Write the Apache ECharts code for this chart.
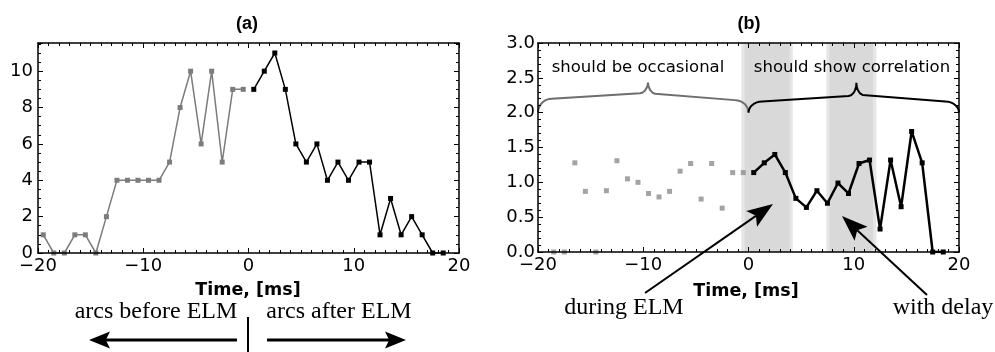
<!DOCTYPE html>
<html><head><meta charset="utf-8">
<script src="https://cdn.jsdelivr.net/npm/echarts@6/dist/echarts.min.js"></script>
<style>html,body{margin:0;padding:0;background:#fff}#c{width:995px;height:352px}</style>
</head><body><div id="c"></div>
<script>
// ---- data ----
const timesBefore = [-19.5,-18.5,-17.5,-16.5,-15.5,-14.5,-13.5,-12.5,-11.5,-10.5,-9.5,-8.5,-7.5,-6.5,-5.5,-4.5,-3.5,-2.5,-1.5,-0.5];
const countsBefore = [1,0,0,1,1,0,2,4,4,4,4,4,5,8,10,6,10,5,9,9];
const timesAfter = [0.5,1.5,2.5,3.5,4.5,5.5,6.5,7.5,8.5,9.5,10.5,11.5,12.5,13.5,14.5,15.5,16.5,17.5,18.5];
const countsAfter = [9,10,11,9,6,5,6,4,5,4,5,5,1,3,1,2,1,0,0];
const ratioBefore = [null,0,0,1.28,0.87,0,0.88,1.31,1.05,1.00,0.84,0.79,0.87,1.16,1.27,0.76,1.27,0.63,1.14,1.14];
const ratioAfter = [1.14,1.28,1.40,1.14,0.77,0.64,0.88,0.70,0.99,0.84,1.27,1.32,0.33,1.32,0.65,1.73,1.28,0,0];
const xTickLabels = ['\u221220','\u221210','0','10','20'];
const yTicksA = [0,2,4,6,8,10];
const yTicksB = ['0.0','0.5','1.0','1.5','2.0','2.5','3.0'];
// shaded windows (ms): [outer start, inner start, inner end, outer end]
const bandDuring = [-0.68,-0.36,3.91,4.2];
const bandDelay = [7.4,7.7,11.83,12.15];

const pairs = (xs, ys) => xs.map((x,i)=>[x, ys[i]]);

function brace(x0, x1, xp, y0, ysL, ymL, ymR, ysR, yt, rx, px){
  const pts=[], N=14;
  for(let i=0;i<=N;i++){const a=i/N*Math.PI/2; pts.push([x0+rx*(1-Math.cos(a)), y0+(ysL-y0)*Math.sin(a)]);}
  for(let i=0;i<=N;i++){const a=i/N*Math.PI/2; pts.push([xp-px+px*Math.sin(a), ymL+(yt-ymL)*(1-Math.cos(a))]);}
  for(let i=N;i>=0;i--){const a=i/N*Math.PI/2; pts.push([xp+px-px*Math.sin(a), ymR+(yt-ymR)*(1-Math.cos(a))]);}
  for(let i=N;i>=0;i--){const a=i/N*Math.PI/2; pts.push([x1-rx*(1-Math.cos(a)), y0+(ysR-y0)*Math.sin(a)]);}
  return pts;
}

const xFmt = v => { const i=[-20,-10,0,10,20].indexOf(v); return i>=0 ? xTickLabels[i] : ''; };
const lblStyle = {color:'#000', fontFamily:'DejaVu Sans', fontSize:18};

function xAx(grid, pos, labels){
  return {type:'value', gridIndex:grid, position:pos, min:-20, max:20, interval:10,
    axisLine:{show:true, onZero:false, lineStyle:{color:'#000', width:1.5}},
    axisTick:{show:true, inside:true, length:5, lineStyle:{color:'#000', width:1}},
    minorTick:{show:true, splitNumber:10, length:3, lineStyle:{color:'#000', width:1}},
    splitLine:{show:false}, minorSplitLine:{show:false}, z:20,
    axisLabel:Object.assign({show:labels, margin:4, formatter:xFmt}, lblStyle)};
}
function yAxA(pos, major, labels){
  return {type:'value', gridIndex:0, position:pos, min:0, max:11.55, interval: major?2:0.5,
    axisLine:{show:major, onZero:false, lineStyle:{color:'#000', width:1.5}},
    axisTick:{show:true, inside:true, length: major?5:3, lineStyle:{color:'#000', width:1}},
    splitLine:{show:false}, z:20,
    axisLabel:Object.assign({show:labels, margin:5, formatter: v => yTicksA.indexOf(v)>=0 ? String(v) : ''}, lblStyle)};
}
function yAxB(pos, labels){
  return {type:'value', gridIndex:1, position:pos, min:0, max:3, interval:0.5,
    axisLine:{show:true, onZero:false, lineStyle:{color:'#000', width:1.5}},
    axisTick:{show:true, inside:true, length:5, lineStyle:{color:'#000', width:1}},
    minorTick:{show:true, splitNumber:5, length:3, lineStyle:{color:'#000', width:1}},
    splitLine:{show:false}, minorSplitLine:{show:false}, z:20,
    axisLabel:Object.assign({show:labels, margin:3, formatter: v => { const s=v.toFixed(1); return yTicksB.indexOf(s)>=0 ? s : ''; }}, lblStyle)};
}

function arrow(x1,y1,x2,y2,lw,hl,hw){
  const dx=x2-x1, dy=y2-y1, L=Math.hypot(dx,dy), ux=dx/L, uy=dy/L;
  const bx=x2-ux*hl, by=y2-uy*hl, px=-uy*hw/2, py=ux*hw/2;
  const nx=x2-ux*hl*0.8, ny=y2-uy*hl*0.8;
  return [
    {type:'line', z:100, shape:{x1:x1,y1:y1,x2:nx,y2:ny}, style:{stroke:'#000', lineWidth:lw}},
    {type:'polygon', z:100, shape:{points:[[x2,y2],[bx+px,by+py],[nx,ny],[bx-px,by-py]]}, style:{fill:'#000'}}
  ];
}
function txt(x,y,s,font,size,weight){
  return {type:'text', z:100, x:x, y:y, style:{text:s, fill:'#000', font:(weight||'normal')+' '+size+'px "'+font+'"', textAlign:'center', textVerticalAlign:'middle'}};
}

const graphics = [
  txt(247,24,'(a)','Liberation Sans',18,'bold'),
  txt(749,24,'(b)','Liberation Sans',18,'bold'),
  txt(248,290,'Time, [ms]','DejaVu Sans',17.5,'bold'),
  txt(746,291,'Time, [ms]','DejaVu Sans',17.5,'bold'),
  txt(156,312,'arcs before ELM','Liberation Serif',24),
  txt(339,312,'arcs after ELM','Liberation Serif',24),
  txt(624,308,'during ELM','Liberation Serif',24),
  txt(943,308,'with delay','Liberation Serif',24),
  txt(638,68,'should be occasional','DejaVu Sans',16.5),
  txt(852,68,'should show correlation','DejaVu Sans',16.5),
  {type:'line', z:100, shape:{x1:248,y1:317,x2:248,y2:352}, style:{stroke:'#000', lineWidth:2}},
  ...arrow(237,340,89,340,3,21,17),
  ...arrow(267,340,406,340,3,21,17),
  ...arrow(645,293,773,204,2,26,19),
  ...arrow(927,295,842,216,2,26,19)
];

const chart = echarts.init(document.getElementById('c'), null, {renderer:'canvas'});
const bandStyleOuter = {color:'#e6e6e6'};
const bandStyleInner = {color:'#d9d9d9'};
const band = (b) => [
  [{xAxis:b[0], yAxis:0, itemStyle:bandStyleOuter},{xAxis:b[3], yAxis:3}],
  [{xAxis:b[1], yAxis:0, itemStyle:bandStyleInner},{xAxis:b[2], yAxis:3}]
];

chart.setOption({
  animation:false,
  backgroundColor:'#fff',
  grid:[
    {left:38, top:43, width:421, height:210, containLabel:false},
    {left:538, top:43, width:421, height:209, containLabel:false}
  ],
  xAxis:[ xAx(0,'bottom',true), xAx(0,'top',false), xAx(1,'bottom',true), xAx(1,'top',false) ],
  yAxis:[ yAxA('left',true,true), yAxA('right',true,false), yAxA('left',false,false), yAxA('right',false,false), yAxB('left',true), yAxB('right',false) ],
  series:[
    {type:'line', xAxisIndex:0, yAxisIndex:0, data:pairs(timesBefore,countsBefore),
     symbol:'rect', symbolSize:5, showAllSymbol:true, lineStyle:{color:'#7c7c7c', width:1.5}, itemStyle:{color:'#7c7c7c'}, z:3},
    {type:'line', xAxisIndex:0, yAxisIndex:0, data:pairs(timesAfter,countsAfter),
     symbol:'rect', symbolSize:5, showAllSymbol:true, lineStyle:{color:'#000', width:1.5}, itemStyle:{color:'#000'}, z:4},
    {type:'scatter', xAxisIndex:2, yAxisIndex:4, data:pairs(timesBefore,ratioBefore).filter(p=>p[1]!==null),
     symbol:'rect', symbolSize:5, itemStyle:{color:'#8c8c8c'}, z:3},
    {type:'line', xAxisIndex:2, yAxisIndex:4, data:pairs(timesAfter,ratioAfter),
     symbol:'rect', symbolSize:5, showAllSymbol:true, lineStyle:{color:'#000', width:2.5}, itemStyle:{color:'#000'}, z:4,
     markArea:{silent:true, data:[...band(bandDuring), ...band(bandDelay)]}},
    {type:'line', xAxisIndex:2, yAxisIndex:4, data:brace(-20,0,-9.55,2.0,2.2,2.28,2.27,2.18,2.45,1.3,0.75),
     showSymbol:false, symbol:'none', silent:true, lineStyle:{color:'#6e6e6e', width:2}, z:5},
    {type:'line', xAxisIndex:2, yAxisIndex:4, data:brace(0,20,10.25,2.0,2.16,2.24,2.25,2.16,2.43,1.3,0.75),
     showSymbol:false, symbol:'none', silent:true, lineStyle:{color:'#000', width:2}, z:5}
  ],
  graphic:{elements:graphics}
});
</script></body></html>
